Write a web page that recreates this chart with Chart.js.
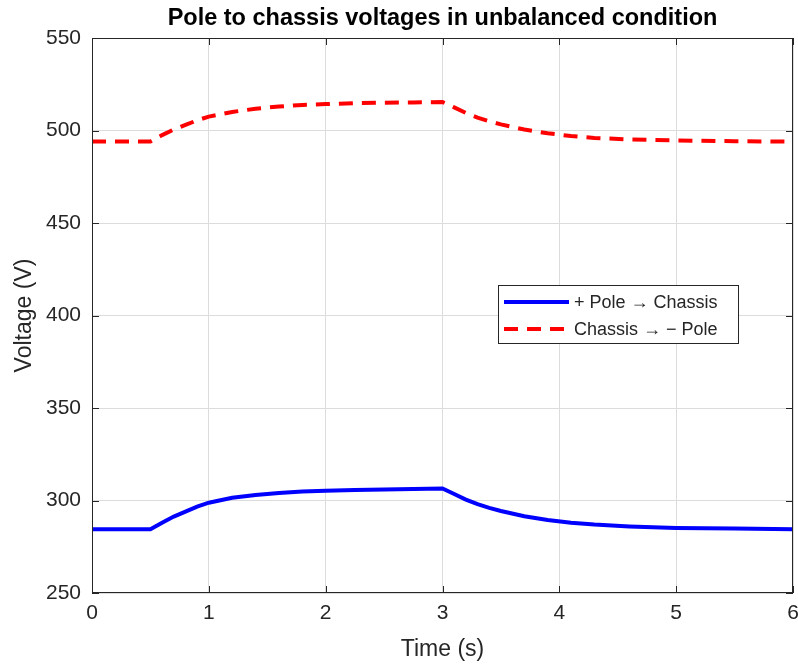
<!DOCTYPE html>
<html>
<head>
<meta charset="utf-8">
<script src="https://cdn.jsdelivr.net/npm/chart.js@4"></script>
<style>
  html, body { margin: 0; padding: 0; background: #fff; }
  #wrap { width: 798px; height: 667px; }
</style>
</head>
<body>
<div id="wrap"><canvas id="chart" width="798" height="667"></canvas></div>
<script>
const timeS = [0, 0.5, 0.6, 0.7, 0.8, 0.9, 1.0, 1.2, 1.4, 1.6, 1.8, 2.0, 2.25, 2.5, 2.75, 3.0,
  3.1, 3.2, 3.3, 3.4, 3.5, 3.7, 3.9, 4.1, 4.3, 4.6, 5.0, 5.5, 6.0];
const posPole = [284.5, 284.5, 288, 291.3, 294, 296.7, 298.8, 301.5, 303, 304, 304.8, 305.3, 305.7, 306, 306.2, 306.5,
  303.5, 300.5, 298, 296, 294.3, 291.5, 289.5, 288, 287, 286, 285.2, 284.8, 284.5];
const negPole = [494, 494, 497.5, 500.5, 503, 505.5, 507.5, 510, 511.8, 513, 513.8, 514.3, 514.8, 515, 515.2, 515.4,
  512.5, 509.5, 507, 505, 503.3, 500.5, 498.5, 497, 496, 495.2, 494.6, 494.2, 494];
const seriesNames = ["+ Pole \u2192 Chassis", "Chassis \u2192 \u2212 Pole"];
const chartTitle = "Pole to chassis voltages in unbalanced condition";
const xTicks = [0, 1, 2, 3, 4, 5, 6];
const yTicks = [250, 300, 350, 400, 450, 500, 550];

const FONT = "'Liberation Sans', Arial, sans-serif";
const toPts = (ys) => timeS.map((t, i) => ({ x: t, y: ys[i] }));

// title over the axes, box, inward ticks and legend, MATLAB style
const matlabBox = {
  id: "matlabBox",
  afterDraw(chart) {
    const { ctx, chartArea: a, scales } = chart;
    ctx.save();
    ctx.fillStyle = "#000";
    ctx.font = "bold 23.5px " + FONT;
    ctx.textAlign = "center";
    ctx.textBaseline = "alphabetic";
    ctx.fillText(chartTitle, (a.left + a.right) / 2, 25);
    ctx.textAlign = "left";

    ctx.strokeStyle = "#262626";
    ctx.lineWidth = 1;
    ctx.strokeRect(a.left + 0.5, a.top + 0.5, a.right - a.left - 1, a.bottom - a.top - 1);
    ctx.beginPath();
    xTicks.forEach((v) => {
      const px = Math.round(scales.x.getPixelForValue(v)) + 0.5;
      ctx.moveTo(px, a.bottom); ctx.lineTo(px, a.bottom - 7);
      ctx.moveTo(px, a.top); ctx.lineTo(px, a.top + 7);
    });
    yTicks.forEach((v) => {
      const py = Math.round(scales.y.getPixelForValue(v)) + 0.5;
      ctx.moveTo(a.left, py); ctx.lineTo(a.left + 7, py);
      ctx.moveTo(a.right, py); ctx.lineTo(a.right - 7, py);
    });
    ctx.stroke();

    // legend
    const bx = 498, by = 285, bw = 240, bh = 58;
    ctx.fillStyle = "#fff";
    ctx.fillRect(bx, by, bw, bh);
    ctx.strokeStyle = "#262626";
    ctx.strokeRect(bx + 0.5, by + 0.5, bw, bh);
    ctx.font = "18px " + FONT;
    ctx.textBaseline = "middle";
    chart.data.datasets.forEach((ds, i) => {
      const ly = by + 17 + i * 27;
      ctx.beginPath();
      ctx.strokeStyle = ds.borderColor;
      ctx.lineWidth = ds.borderWidth;
      ctx.setLineDash(ds.borderDash || []);
      ctx.moveTo(bx + 6, ly); ctx.lineTo(bx + 71, ly);
      ctx.stroke();
      ctx.setLineDash([]);
      ctx.fillStyle = "#262626";
      ctx.fillText(seriesNames[i], bx + 76, ly + 1);
    });
    ctx.restore();
  },
};

new Chart(document.getElementById("chart"), {
  type: "line",
  data: {
    datasets: [
      {
        label: seriesNames[0],
        data: toPts(posPole),
        borderColor: "#0000ff",
        borderWidth: 4,
        pointRadius: 0,
        tension: 0,
      },
      {
        label: seriesNames[1],
        data: toPts(negPole),
        borderColor: "#ff0000",
        borderWidth: 4,
        borderDash: [14, 9],
        pointRadius: 0,
        tension: 0,
      },
    ],
  },
  options: {
    responsive: false,
    animation: false,
    layout: { padding: { left: 0, right: 5, top: 38, bottom: 0 } },
    plugins: {
      legend: { display: false },
      tooltip: { enabled: false },
      title: { display: false },
    },
    scales: {
      x: {
        type: "linear",
        min: 0,
        max: 6,
        afterBuildTicks: (s) => { s.ticks = xTicks.map((v) => ({ value: v })); },
        afterFit: (s) => { s.height = 74; s.paddingLeft = 0; s.paddingRight = 0; },
        grid: { color: "#dcdcdc", drawTicks: false },
        border: { display: false },
        ticks: { color: "#262626", padding: 8, font: { family: FONT, size: 21 } },
        title: {
          display: true,
          text: "Time (s)",
          color: "#262626",
          font: { family: FONT, size: 23 },
          padding: { top: 4, bottom: 4 },
        },
      },
      y: {
        min: 250,
        max: 550,
        afterBuildTicks: (s) => { s.ticks = yTicks.map((v) => ({ value: v })); },
        afterFit: (s) => { s.width = 92; s.paddingTop = 0; s.paddingBottom = 0; },
        grid: { color: "#dcdcdc", drawTicks: false },
        border: { display: false },
        ticks: { color: "#262626", padding: 11, font: { family: FONT, size: 21 } },
        title: {
          display: true,
          text: "Voltage (V)",
          color: "#262626",
          font: { family: FONT, size: 23 },
          padding: { top: 11, bottom: 4 },
        },
      },
    },
  },
  plugins: [matlabBox],
});
</script>
</body>
</html>
